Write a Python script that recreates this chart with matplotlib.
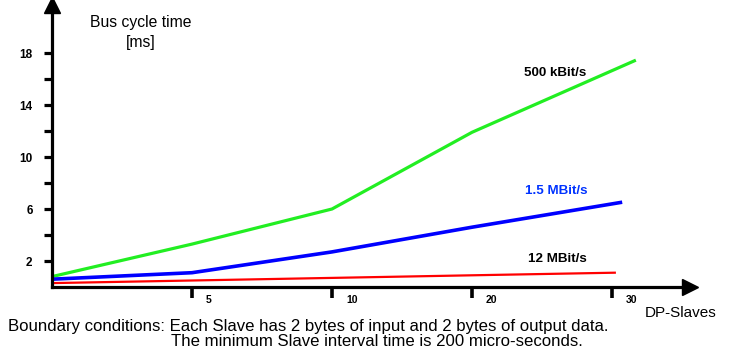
import numpy as np
import matplotlib
matplotlib.use("Agg")
import matplotlib.pyplot as plt
import matplotlib.transforms as mtransforms

plt.rcParams['font.family'] = ['Liberation Sans', 'DejaVu Sans']

# x positions are equally spaced categories (0 = origin)
slave_ticks = [1, 2, 3, 4]
slave_labels = ["5", "10", "20", "30"]

green_x = [0, 1, 2, 3, 4.16]
green_y = [0.8, 3.3, 6.0, 11.9, 17.4]   # 500 kBit/s
blue_x = [0, 1, 2, 3, 4.06]
blue_y = [0.6, 1.1, 2.7, 4.6, 6.5]      # 1.5 MBit/s
red_x = [0, 1, 2, 3, 4.02]
red_y = [0.3, 0.5, 0.7, 0.9, 1.1]       # 12 MBit/s

y_major = [2, 6, 10, 14, 18]
y_minor = [4, 8, 12, 16]

fig = plt.figure(figsize=(7.31, 3.5), dpi=100)
ax = fig.add_axes([52/731, 63/350, 638/731, 282/350])
ax.set_xlim(0, 638/140)
ax.set_ylim(0, 282/13)

ax.plot(green_x, green_y, color="#22ee22", lw=2.3, solid_joinstyle="miter")
ax.plot(blue_x, blue_y, color="#0000ff", lw=2.6)
ax.plot(red_x, red_y, color="#ff0000", lw=1.6)

for s in ["top", "right"]:
    ax.spines[s].set_visible(False)
for s in ["left", "bottom"]:
    ax.spines[s].set_linewidth(2.3)

# arrow heads
ax.plot(1, 0, ">k", ms=11, transform=ax.get_yaxis_transform(), clip_on=False)
ax.plot(0, 1, "^k", ms=11, transform=ax.get_xaxis_transform(), clip_on=False)

ax.set_yticks(y_major)
ax.set_yticklabels([str(v) for v in y_major], fontsize=8.5, fontweight="heavy")
ax.set_yticks(y_minor, minor=True)
ax.tick_params(axis="y", which="both", direction="out", length=6, width=2.3, pad=8)

ax.set_xticks(slave_ticks)
ax.set_xticklabels(slave_labels, fontsize=7.5, fontweight="heavy", ha="left")
ax.tick_params(axis="x", direction="out", length=8, width=2.6, pad=-2)
offset = mtransforms.ScaledTranslation(14/100, 0, fig.dpi_scale_trans)
for lbl in ax.get_xticklabels():
    lbl.set_transform(lbl.get_transform() + offset)

fig.text(90/731, 1 - 22/350, "Bus cycle time", fontsize=11.3, va="center", ha="left")
fig.text(141/731, 1 - 43/350, "[ms]", fontsize=11.3, va="center", ha="center")

ax.text(555/731, 1 - 73/350, "500 kBit/s", fontsize=9.6, fontweight="bold",
        va="center", ha="center", transform=fig.transFigure)
ax.text(556/731, 1 - 191/350, "1.5 MBit/s", fontsize=9.6, fontweight="bold",
        va="center", ha="center", color="#0033ff", transform=fig.transFigure)
ax.text(557/731, 1 - 259/350, "12 MBit/s", fontsize=9.6, fontweight="bold",
        va="center", ha="center", transform=fig.transFigure)

fig.text(681/731, 1 - 313/350, "DP-Slaves", fontsize=11, va="center", ha="center")
fig.text(8/731, 1 - 326/350,
         "Boundary conditions: Each Slave has 2 bytes of input and 2 bytes of output data.",
         fontsize=12.1, va="center", ha="left")
fig.text(377/731, 1 - 342/350,
         "The minimum Slave interval time is 200 micro-seconds.",
         fontsize=12.1, va="center", ha="center")

fig.savefig("out.png", dpi=100)
